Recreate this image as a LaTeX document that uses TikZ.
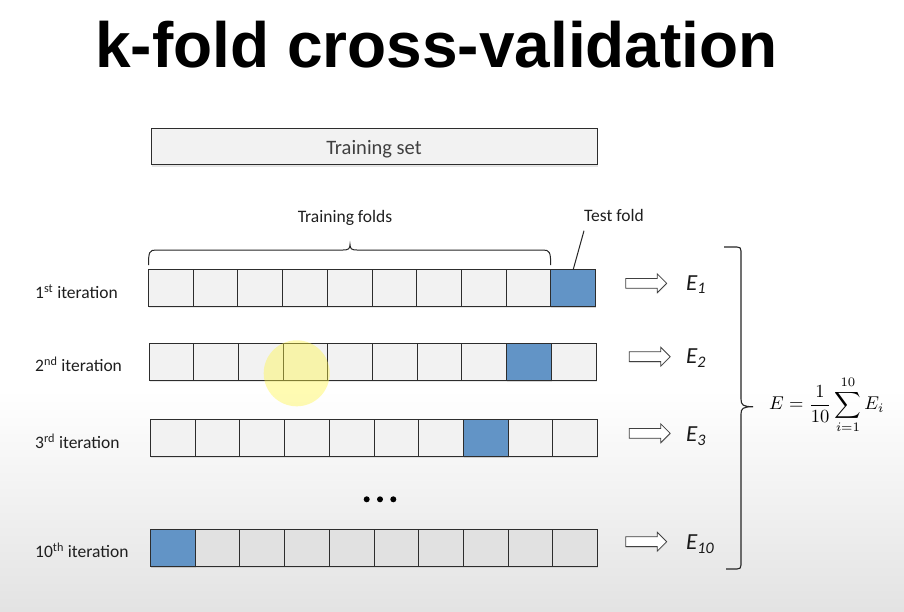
\documentclass[tikz,border=0pt]{standalone}
\usepackage{amsmath}
\usepackage{graphicx}
\usepackage[no-math]{fontspec}
\setmainfont{Carlito}
\newfontfamily\titlefont{Liberation Sans}
\usepackage{xcolor}
\usepackage{tikz}
\usetikzlibrary{shapes.arrows,shadows,positioning}

\definecolor{foldblue}{RGB}{98,148,198}
\definecolor{cellgrey}{RGB}{242,242,242}
\definecolor{edgegrey}{RGB}{45,45,45}
\definecolor{setgrey}{RGB}{64,64,64}

\begin{document}
\begin{tikzpicture}[x=1pt,y=-1pt,
  cell/.style={draw=edgegrey,line width=1pt,minimum width=44.7pt,minimum height=37pt,
    inner sep=0pt,outer sep=0pt,drop shadow={opacity=0.18,shadow xshift=0.6pt,shadow yshift=-1.4pt}},
  setbox/.style={draw=edgegrey,line width=1pt,fill=cellgrey,minimum width=446pt,minimum height=36.7pt,
    inner sep=0pt,text=setgrey,font=\fontsize{20.5}{24}\selectfont,text height=16.4pt,text depth=0pt,
    drop shadow={opacity=0.2,shadow xshift=0.6pt,shadow yshift=-1.6pt}},
  lbl/.style={font=\fontsize{17.5}{21}\selectfont,text=black!88,inner sep=0pt},
  blockarrow/.style={single arrow,draw=black!75,fill=white,line width=0.8pt,minimum height=41pt,
    inner sep=4.5pt,single arrow head extend=4.5pt,single arrow tip angle=90,
    drop shadow={opacity=0.15,shadow xshift=0.6pt,shadow yshift=-1pt}},
  elab/.style={font=\fontsize{23}{27}\selectfont\itshape,text=black!90,inner sep=0pt},
  bracestyle/.style={draw=black!85,line width=1.1pt},
]
\useasboundingbox (0,0) rectangle (904,611);
\fill[white] (0,0) rectangle (904,391);
\shade[top color=white,bottom color=black!11] (0,390) rectangle (904,611);

\node[font=\titlefont\bfseries\fontsize{64}{70}\selectfont,anchor=base,inner sep=0pt] (title) at (436.5,67) {k-fold cross-validation};

\node[setbox] (set) at (374,146.6) {Training set};

% the folds, one row per iteration
\foreach \r/\xx/\yy/\b/\bg in {1/148.5/288.25/9/cellgrey,2/149/362/8/cellgrey,
    3/150.5/438/7/cellgrey,10/150.5/548/0/cellgrey!93!black}{
  \foreach \c in {0,...,9}
    \node[cell,fill=\bg] (r\r-\c) at (\xx+22.35+44.7*\c,\yy) {};
  \node[cell,fill=foldblue] (t\r) at (r\r-\b) {};
}

\node[lbl,anchor=base west] (l1) at (35,298.3) {1\textsuperscript{st} iteration};
\node[lbl,anchor=base west] (l2) at (35,371.7) {2\textsuperscript{nd} iteration};
\node[lbl,anchor=base west] (l3) at (35,448.3) {3\textsuperscript{rd} iteration};
\node[lbl,anchor=base west] (l10) at (35,557.7) {10\textsuperscript{th} iteration};

\draw[bracestyle,line width=1pt] (148.5,265) .. controls (148.5,252) and (149.5,250) .. (156,250) -- (343,250)
  .. controls (348,250) and (350,249) .. (350,244.5) .. controls (350,249) and (352,250) .. (357,250)
  -- (543,250) .. controls (549.5,250) and (550.7,252) .. (550.7,265);
\node[lbl] (folds) at (345,218) {Training folds};
\node[lbl] (tf) at (614,215) {Test fold};
\coordinate (tfl) at (584,230.7);
\draw[black!85,line width=1pt] (t1.north) -- (tfl);

\foreach \d in {366.7,380,393.3}
  \fill[black] (\d,499.3) circle (3);

\node[blockarrow] (a1) at (643.7,283.3) {};
\node[blockarrow] (a2) at (647.2,356.7) {};
\node[blockarrow] (a3) at (647.2,433.3) {};
\node[blockarrow] (a10) at (643.7,541.7) {};

\node[elab,anchor=base west] (e1) at (686,290) {E\textsubscript{1}};
\node[elab,anchor=base west] (e2) at (686,363.5) {E\textsubscript{2}};
\node[elab,anchor=base west] (e3) at (686,441.7) {E\textsubscript{3}};
\node[elab,anchor=base west] (e10) at (686,549.3) {E\textsubscript{10}};

\draw[bracestyle] (724,247) -- (737,247) .. controls (740,247) and (741,248) .. (741,251) -- (741,399)
  .. controls (741,405) and (743,406.7) .. (753,406.7) .. controls (743,406.7) and (741,408.4) .. (741,414)
  -- (741,565) .. controls (741,568) and (740,569) .. (737,569) -- (726,569);

\node[anchor=west,inner sep=0pt] (mean) at (769,405)
  {\scalebox{1.85}{$\displaystyle E=\frac{1}{10}\sum_{i=1}^{10}E_i$}};

% pointer highlight
\fill[yellow!75!white,opacity=0.4] (296.7,373.3) circle (33);
\end{tikzpicture}
\end{document}
